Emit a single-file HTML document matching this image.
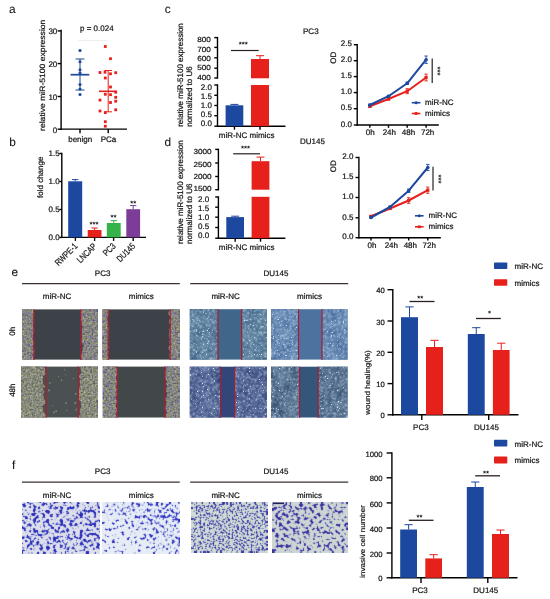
<!DOCTYPE html>
<html><head><meta charset="utf-8"><title>Figure</title>
<style>html,body{margin:0;padding:0;background:#fff}svg{display:block;will-change:transform}text{font-family:"Liberation Sans",sans-serif;text-rendering:geometricPrecision;stroke:#151515;stroke-width:0.22px}</style></head>
<body><svg width="550" height="599" viewBox="0 0 550 599">
<defs><filter id="pc" x="0" y="0" width="100%" height="100%" color-interpolation-filters="sRGB"><feTurbulence type="fractalNoise" baseFrequency="0.65" numOctaves="2" seed="4"/><feColorMatrix type="matrix" values="0.540 0.640 0 0 -0.070  0.540 0.640 0 0 -0.070  -0.600 0.640 0 0 0.490  0 0 0 0 1"/><feConvolveMatrix order="3" kernelMatrix="0 1 0 1 6 1 0 1 0" divisor="10" edgeMode="duplicate" preserveAlpha="true"/></filter><filter id="pc2" x="0" y="0" width="100%" height="100%" color-interpolation-filters="sRGB"><feTurbulence type="fractalNoise" baseFrequency="0.65" numOctaves="2" seed="9"/><feColorMatrix type="matrix" values="0.336 0.720 0 0 0.002  0.364 0.720 0 0 -0.002  -0.364 0.720 0 0 0.302  0 0 0 0 1"/><feConvolveMatrix order="3" kernelMatrix="0 1 0 1 6 1 0 1 0" divisor="10" edgeMode="duplicate" preserveAlpha="true"/></filter><clipPath id="cl11"><polygon points="22.0,309.4 33.3,309.4 33.5,311.9 34.2,314.4 33.3,316.9 33.4,319.4 33.6,321.9 32.8,324.4 33.4,326.9 33.7,329.4 34.0,331.9 32.6,334.4 33.0,336.9 32.6,339.4 34.0,341.9 33.8,344.4 32.5,346.9 34.4,349.4 34.3,351.9 33.7,354.4 33.6,356.9 32.7,359.4 32.4,359.6 22.0,359.6"/><polygon points="98.0,309.4 81.9,309.4 80.9,311.9 81.2,314.4 81.3,316.9 80.9,319.4 81.7,321.9 81.7,324.4 82.5,326.9 81.8,329.4 82.1,331.9 81.8,334.4 82.1,336.9 81.7,339.4 81.4,341.9 82.8,344.4 82.8,346.9 82.5,349.4 82.2,351.9 81.4,354.4 81.3,356.9 81.4,359.4 80.9,359.6 98.0,359.6"/></clipPath><clipPath id="cl12"><polygon points="102.5,309.4 108.4,309.4 108.9,311.9 108.9,314.4 107.6,316.9 107.3,319.4 108.2,321.9 108.0,324.4 109.2,326.9 109.0,329.4 108.7,331.9 108.6,334.4 108.9,336.9 107.6,339.4 108.4,341.9 107.7,344.4 109.5,346.9 107.4,349.4 109.3,351.9 107.5,354.4 108.9,356.9 108.1,359.4 108.3,359.6 102.5,359.6"/><polygon points="179.8,309.4 170.4,309.4 168.4,311.9 168.5,314.4 170.6,316.9 169.6,319.4 168.6,321.9 170.8,324.4 170.7,326.9 168.7,329.4 169.4,331.9 168.7,334.4 169.2,336.9 169.9,339.4 168.8,341.9 170.1,344.4 168.5,346.9 168.8,349.4 170.4,351.9 169.4,354.4 169.4,356.9 169.8,359.4 169.5,359.6 179.8,359.6"/></clipPath><clipPath id="cl13"><polygon points="21.0,366.6 43.2,366.6 45.1,369.1 45.1,371.6 45.8,374.1 42.9,376.6 43.1,379.1 42.7,381.6 43.1,384.1 45.3,386.6 42.7,389.1 44.4,391.6 43.0,394.1 43.4,396.6 44.0,399.1 45.8,401.6 44.8,404.1 42.2,406.6 43.3,409.1 42.7,411.6 45.9,414.1 45.7,416.6 45.6,417.5 21.0,417.5"/><polygon points="98.0,366.6 80.9,366.6 80.6,369.1 81.5,371.6 80.8,374.1 78.4,376.6 81.0,379.1 79.4,381.6 80.6,384.1 79.8,386.6 79.2,389.1 78.9,391.6 79.2,394.1 78.7,396.6 77.8,399.1 80.9,401.6 80.8,404.1 81.6,406.6 80.3,409.1 79.7,411.6 80.6,414.1 77.9,416.6 80.3,417.5 98.0,417.5"/></clipPath><clipPath id="cl14"><polygon points="102.8,366.6 115.3,366.6 117.1,369.1 117.0,371.6 117.8,374.1 115.8,376.6 115.8,379.1 117.2,381.6 117.0,384.1 115.9,386.6 117.1,389.1 116.2,391.6 117.3,394.1 115.4,396.6 115.7,399.1 117.7,401.6 116.1,404.1 115.8,406.6 117.4,409.1 116.9,411.6 115.4,414.1 116.7,416.6 117.0,417.5 102.8,417.5"/><polygon points="179.6,366.6 165.0,366.6 166.5,369.1 164.9,371.6 165.5,374.1 164.7,376.6 165.1,379.1 167.4,381.6 165.7,384.1 167.5,386.6 165.8,389.1 166.3,391.6 167.1,394.1 166.6,396.6 164.8,399.1 166.3,401.6 166.4,404.1 165.0,406.6 164.8,409.1 167.1,411.6 166.0,414.1 165.1,416.6 165.9,417.5 179.6,417.5"/></clipPath><filter id="du1" x="0" y="0" width="100%" height="100%" color-interpolation-filters="sRGB"><feTurbulence type="fractalNoise" baseFrequency="0.07" numOctaves="2" seed="5"/><feColorMatrix type="matrix" values="0.216 0 0 0 0.202  0.216 0 0 0 0.343  0.176 0 0 0 0.488  0 0 0 0 1" result="bg"/><feTurbulence type="fractalNoise" baseFrequency="0.62" numOctaves="2" seed="35"/><feColorMatrix type="matrix" values="0 0 0 0 0.753  0 0 0 0 0.847  0 0 0 0 0.910  6 0 0 0 -3.22" result="sp"/><feMerge><feMergeNode in="bg"/><feMergeNode in="sp"/></feMerge><feConvolveMatrix order="3" kernelMatrix="1 2 1 2 4 2 1 2 1" divisor="16" edgeMode="duplicate" preserveAlpha="true" result="soft"/><feTurbulence type="fractalNoise" baseFrequency="0.83" numOctaves="1" seed="65"/><feColorMatrix type="matrix" values="0 0 0 0 0.85  0 0 0 0 0.92  0 0 0 0 0.97  9 0 0 0 -5.9" result="sp2"/><feMerge><feMergeNode in="soft"/><feMergeNode in="sp2"/></feMerge></filter><filter id="du2" x="0" y="0" width="100%" height="100%" color-interpolation-filters="sRGB"><feTurbulence type="fractalNoise" baseFrequency="0.07" numOctaves="2" seed="6"/><feColorMatrix type="matrix" values="0.235 0 0 0 0.227  0.235 0 0 0 0.369  0.176 0 0 0 0.575  0 0 0 0 1" result="bg"/><feTurbulence type="fractalNoise" baseFrequency="0.62" numOctaves="2" seed="36"/><feColorMatrix type="matrix" values="0 0 0 0 0.784  0 0 0 0 0.863  0 0 0 0 0.941  6 0 0 0 -3.22" result="sp"/><feMerge><feMergeNode in="bg"/><feMergeNode in="sp"/></feMerge><feConvolveMatrix order="3" kernelMatrix="1 2 1 2 4 2 1 2 1" divisor="16" edgeMode="duplicate" preserveAlpha="true" result="soft"/><feTurbulence type="fractalNoise" baseFrequency="0.83" numOctaves="1" seed="66"/><feColorMatrix type="matrix" values="0 0 0 0 0.85  0 0 0 0 0.92  0 0 0 0 0.97  9 0 0 0 -5.9" result="sp2"/><feMerge><feMergeNode in="soft"/><feMergeNode in="sp2"/></feMerge></filter><filter id="du3" x="0" y="0" width="100%" height="100%" color-interpolation-filters="sRGB"><feTurbulence type="fractalNoise" baseFrequency="0.07" numOctaves="2" seed="7"/><feColorMatrix type="matrix" values="0.255 0 0 0 0.135  0.275 0 0 0 0.200  0.255 0 0 0 0.402  0 0 0 0 1" result="bg"/><feTurbulence type="fractalNoise" baseFrequency="0.62" numOctaves="2" seed="37"/><feColorMatrix type="matrix" values="0 0 0 0 0.737  0 0 0 0 0.792  0 0 0 0 0.910  6 0 0 0 -3.18" result="sp"/><feMerge><feMergeNode in="bg"/><feMergeNode in="sp"/></feMerge><feConvolveMatrix order="3" kernelMatrix="1 2 1 2 4 2 1 2 1" divisor="16" edgeMode="duplicate" preserveAlpha="true" result="soft"/><feTurbulence type="fractalNoise" baseFrequency="0.83" numOctaves="1" seed="67"/><feColorMatrix type="matrix" values="0 0 0 0 0.85  0 0 0 0 0.92  0 0 0 0 0.97  9 0 0 0 -5.9" result="sp2"/><feMerge><feMergeNode in="soft"/><feMergeNode in="sp2"/></feMerge></filter><filter id="du4" x="0" y="0" width="100%" height="100%" color-interpolation-filters="sRGB"><feTurbulence type="fractalNoise" baseFrequency="0.07" numOctaves="2" seed="8"/><feColorMatrix type="matrix" values="0.255 0 0 0 0.159  0.275 0 0 0 0.255  0.255 0 0 0 0.386  0 0 0 0 1" result="bg"/><feTurbulence type="fractalNoise" baseFrequency="0.62" numOctaves="2" seed="38"/><feColorMatrix type="matrix" values="0 0 0 0 0.737  0 0 0 0 0.816  0 0 0 0 0.902  6 0 0 0 -3.22" result="sp"/><feMerge><feMergeNode in="bg"/><feMergeNode in="sp"/></feMerge><feConvolveMatrix order="3" kernelMatrix="1 2 1 2 4 2 1 2 1" divisor="16" edgeMode="duplicate" preserveAlpha="true" result="soft"/><feTurbulence type="fractalNoise" baseFrequency="0.83" numOctaves="1" seed="68"/><feColorMatrix type="matrix" values="0 0 0 0 0.85  0 0 0 0 0.92  0 0 0 0 0.97  9 0 0 0 -5.9" result="sp2"/><feMerge><feMergeNode in="soft"/><feMergeNode in="sp2"/></feMerge></filter><clipPath id="cl15"><polygon points="189.8,309.2 218.3,309.2 217.7,311.7 218.1,314.2 217.8,316.7 218.3,319.2 217.7,321.7 218.2,324.2 218.1,326.7 218.2,329.2 218.3,331.7 217.8,334.2 217.9,336.7 218.1,339.2 217.9,341.7 217.9,344.2 217.8,346.7 218.2,349.2 218.2,351.7 218.2,354.2 217.8,356.7 218.3,359.2 218.0,359.6 189.8,359.6"/><polygon points="266.8,309.2 241.4,309.2 241.6,311.7 241.6,314.2 241.3,316.7 241.6,319.2 241.5,321.7 241.6,324.2 241.9,326.7 241.7,329.2 241.5,331.7 241.8,334.2 241.9,336.7 241.6,339.2 241.9,341.7 241.3,344.2 241.4,346.7 241.4,349.2 241.9,351.7 241.7,354.2 241.7,356.7 241.5,359.2 241.6,359.6 266.8,359.6"/></clipPath><clipPath id="cl16"><polygon points="271.0,309.2 298.4,309.2 298.5,311.7 298.5,314.2 298.5,316.7 298.4,319.2 298.6,321.7 298.4,324.2 298.6,326.7 298.2,329.2 298.4,331.7 298.4,334.2 298.3,336.7 298.6,339.2 298.4,341.7 298.7,344.2 298.8,346.7 298.4,349.2 298.7,351.7 298.7,354.2 298.6,356.7 298.2,359.2 298.5,359.6 271.0,359.6"/><polygon points="347.5,309.2 322.1,309.2 321.9,311.7 321.8,314.2 321.9,316.7 321.9,319.2 322.2,321.7 321.9,324.2 322.0,326.7 322.1,329.2 322.3,331.7 321.9,334.2 321.7,336.7 322.3,339.2 322.2,341.7 322.2,344.2 322.0,346.7 321.8,349.2 321.8,351.7 321.9,354.2 322.0,356.7 321.7,359.2 322.1,359.6 347.5,359.6"/></clipPath><clipPath id="cl17"><polygon points="189.8,366.7 220.5,366.7 220.7,369.2 220.8,371.7 220.4,374.2 220.7,376.7 220.6,379.2 220.6,381.7 220.3,384.2 220.2,386.7 220.4,389.2 220.6,391.7 220.4,394.2 220.5,396.7 220.4,399.2 220.7,401.7 220.8,404.2 220.4,406.7 220.8,409.2 220.2,411.7 220.7,414.2 220.7,416.7 220.3,417.5 189.8,417.5"/><polygon points="266.8,366.7 234.7,366.7 234.6,369.2 234.9,371.7 234.4,374.2 234.6,376.7 234.8,379.2 234.7,381.7 234.5,384.2 234.3,386.7 234.9,389.2 234.6,391.7 234.9,394.2 234.4,396.7 234.8,399.2 234.8,401.7 234.9,404.2 234.3,406.7 234.5,409.2 234.3,411.7 234.8,414.2 234.5,416.7 234.9,417.5 266.8,417.5"/></clipPath><clipPath id="cl18"><polygon points="271.0,366.7 299.4,366.7 299.7,369.2 299.5,371.7 299.4,374.2 299.6,376.7 299.6,379.2 299.6,381.7 299.6,384.2 299.5,386.7 299.5,389.2 299.7,391.7 299.5,394.2 299.7,396.7 299.8,399.2 299.8,401.7 299.9,404.2 299.4,406.7 299.4,409.2 299.7,411.7 299.6,414.2 299.4,416.7 299.7,417.5 271.0,417.5"/><polygon points="347.5,366.7 318.3,366.7 318.3,369.2 317.9,371.7 318.0,374.2 317.8,376.7 318.4,379.2 317.9,381.7 318.2,384.2 318.1,386.7 318.2,389.2 318.1,391.7 318.3,394.2 318.2,396.7 318.0,399.2 317.9,401.7 318.1,404.2 318.4,406.7 317.9,409.2 318.2,411.7 318.2,414.2 317.9,416.7 317.9,417.5 347.5,417.5"/></clipPath><filter id="t1" x="0" y="0" width="100%" height="100%" color-interpolation-filters="sRGB"><feTurbulence type="fractalNoise" baseFrequency="0.3" numOctaves="2" seed="21"/><feColorMatrix type="matrix" values="1 0 0 0 0  1 0 0 0 0  1 0 0 0 0  0 0 0 0 1"/><feComponentTransfer><feFuncR type="table" tableValues="0.867 0.867 0.867 0.867 0.867 0.867 0.867 0.867 0.867 0.867 0.867 0.867 0.867 0.533 0.165 0.165 0.165 0.165 0.165 0.165 0.165 0.165 0.165 0.165"/><feFuncG type="table" tableValues="0.882 0.882 0.882 0.882 0.882 0.882 0.882 0.882 0.882 0.882 0.882 0.882 0.882 0.565 0.173 0.173 0.173 0.173 0.173 0.173 0.173 0.173 0.173 0.173"/><feFuncB type="table" tableValues="0.925 0.925 0.925 0.925 0.925 0.925 0.925 0.925 0.925 0.925 0.925 0.925 0.925 0.831 0.737 0.737 0.737 0.737 0.737 0.737 0.737 0.737 0.737 0.737"/></feComponentTransfer><feConvolveMatrix order="3" kernelMatrix="0 1 0 1 6 1 0 1 0" divisor="10" edgeMode="duplicate" preserveAlpha="true"/></filter><filter id="t2" x="0" y="0" width="100%" height="100%" color-interpolation-filters="sRGB"><feTurbulence type="fractalNoise" baseFrequency="0.32" numOctaves="2" seed="22"/><feColorMatrix type="matrix" values="1 0 0 0 0  1 0 0 0 0  1 0 0 0 0  0 0 0 0 1"/><feComponentTransfer><feFuncR type="table" tableValues="0.902 0.902 0.902 0.902 0.902 0.902 0.902 0.902 0.902 0.902 0.902 0.902 0.902 0.902 0.902 0.596 0.173 0.173 0.173 0.173 0.173 0.173 0.173 0.173"/><feFuncG type="table" tableValues="0.933 0.933 0.933 0.933 0.933 0.933 0.933 0.933 0.933 0.933 0.933 0.933 0.933 0.933 0.933 0.627 0.180 0.180 0.180 0.180 0.180 0.180 0.180 0.180"/><feFuncB type="table" tableValues="0.965 0.965 0.965 0.965 0.965 0.965 0.965 0.965 0.965 0.965 0.965 0.965 0.965 0.965 0.965 0.863 0.753 0.753 0.753 0.753 0.753 0.753 0.753 0.753"/></feComponentTransfer><feConvolveMatrix order="3" kernelMatrix="0 1 0 1 6 1 0 1 0" divisor="10" edgeMode="duplicate" preserveAlpha="true"/></filter><filter id="t2b" x="0" y="0" width="100%" height="100%" color-interpolation-filters="sRGB"><feTurbulence type="fractalNoise" baseFrequency="0.32" numOctaves="2" seed="22"/><feColorMatrix type="matrix" values="1 0 0 0 0  1 0 0 0 0  1 0 0 0 0  0 0 0 0 1"/><feComponentTransfer><feFuncR type="table" tableValues="0.902 0.902 0.902 0.902 0.902 0.902 0.902 0.902 0.902 0.902 0.902 0.902 0.902 0.533 0.165 0.165 0.165 0.165 0.165 0.165 0.165 0.165 0.165 0.165"/><feFuncG type="table" tableValues="0.933 0.933 0.933 0.933 0.933 0.933 0.933 0.933 0.933 0.933 0.933 0.933 0.933 0.565 0.173 0.173 0.173 0.173 0.173 0.173 0.173 0.173 0.173 0.173"/><feFuncB type="table" tableValues="0.965 0.965 0.965 0.965 0.965 0.965 0.965 0.965 0.965 0.965 0.965 0.965 0.965 0.847 0.753 0.753 0.753 0.753 0.753 0.753 0.753 0.753 0.753 0.753"/></feComponentTransfer><feConvolveMatrix order="3" kernelMatrix="0 1 0 1 6 1 0 1 0" divisor="10" edgeMode="duplicate" preserveAlpha="true"/></filter><linearGradient id="gmt2b" x1="1" y1="0" x2="0" y2="1"><stop offset="0" stop-color="#fff"/><stop offset="0.15" stop-color="#fff"/><stop offset="0.6" stop-color="#000"/><stop offset="1" stop-color="#000"/></linearGradient><mask id="mt2b" maskUnits="userSpaceOnUse" x="102.5" y="502" width="77.5" height="51.8"><rect x="102.5" y="502" width="77.5" height="51.8" fill="url(#gmt2b)"/></mask><filter id="t3" x="0" y="0" width="100%" height="100%" color-interpolation-filters="sRGB"><feTurbulence type="fractalNoise" baseFrequency="0.53" numOctaves="2" seed="31"/><feColorMatrix type="matrix" values="1 0 0 0 0  1 0 0 0 0  1 0 0 0 0  0 0 0 0 1"/><feComponentTransfer><feFuncR type="table" tableValues="0.824 0.824 0.824 0.824 0.824 0.824 0.824 0.824 0.824 0.824 0.824 0.824 0.824 0.541 0.212 0.212 0.212 0.212 0.212 0.212 0.212 0.212 0.212 0.212"/><feFuncG type="table" tableValues="0.863 0.863 0.863 0.863 0.863 0.863 0.863 0.863 0.863 0.863 0.863 0.863 0.863 0.565 0.212 0.212 0.212 0.212 0.212 0.212 0.212 0.212 0.212 0.212"/><feFuncB type="table" tableValues="0.835 0.835 0.835 0.835 0.835 0.835 0.835 0.835 0.835 0.835 0.835 0.835 0.835 0.769 0.659 0.659 0.659 0.659 0.659 0.659 0.659 0.659 0.659 0.659"/></feComponentTransfer><feConvolveMatrix order="3" kernelMatrix="0 1 0 1 6 1 0 1 0" divisor="10" edgeMode="duplicate" preserveAlpha="true"/></filter><filter id="t4" x="0" y="0" width="100%" height="100%" color-interpolation-filters="sRGB"><feTurbulence type="fractalNoise" baseFrequency="0.29" numOctaves="2" seed="27"/><feColorMatrix type="matrix" values="1 0 0 0 0  1 0 0 0 0  1 0 0 0 0  0 0 0 0 1"/><feComponentTransfer><feFuncR type="table" tableValues="0.800 0.800 0.800 0.800 0.800 0.800 0.800 0.800 0.800 0.800 0.800 0.800 0.800 0.800 0.502 0.235 0.235 0.235 0.235 0.235 0.235 0.235 0.235 0.235"/><feFuncG type="table" tableValues="0.847 0.847 0.847 0.847 0.847 0.847 0.847 0.847 0.847 0.847 0.847 0.847 0.847 0.847 0.502 0.188 0.188 0.188 0.188 0.188 0.188 0.188 0.188 0.188"/><feFuncB type="table" tableValues="0.835 0.835 0.835 0.835 0.835 0.835 0.835 0.835 0.835 0.835 0.835 0.835 0.835 0.835 0.753 0.620 0.620 0.620 0.620 0.620 0.620 0.620 0.620 0.620"/></feComponentTransfer><feConvolveMatrix order="3" kernelMatrix="0 1 0 1 6 1 0 1 0" divisor="10" edgeMode="duplicate" preserveAlpha="true"/></filter><filter id="t4b" x="0" y="0" width="100%" height="100%" color-interpolation-filters="sRGB"><feTurbulence type="fractalNoise" baseFrequency="0.29" numOctaves="2" seed="27"/><feColorMatrix type="matrix" values="1 0 0 0 0  1 0 0 0 0  1 0 0 0 0  0 0 0 0 1"/><feComponentTransfer><feFuncR type="table" tableValues="0.800 0.800 0.800 0.800 0.800 0.800 0.800 0.800 0.800 0.800 0.800 0.800 0.800 0.471 0.235 0.235 0.235 0.235 0.235 0.235 0.235 0.235 0.235 0.235"/><feFuncG type="table" tableValues="0.847 0.847 0.847 0.847 0.847 0.847 0.847 0.847 0.847 0.847 0.847 0.847 0.847 0.471 0.188 0.188 0.188 0.188 0.188 0.188 0.188 0.188 0.188 0.188"/><feFuncB type="table" tableValues="0.835 0.835 0.835 0.835 0.835 0.835 0.835 0.835 0.835 0.835 0.835 0.835 0.835 0.737 0.620 0.620 0.620 0.620 0.620 0.620 0.620 0.620 0.620 0.620"/></feComponentTransfer><feConvolveMatrix order="3" kernelMatrix="0 1 0 1 6 1 0 1 0" divisor="10" edgeMode="duplicate" preserveAlpha="true"/></filter><linearGradient id="gmt4b" x1="0" y1="0" x2="1" y2="1"><stop offset="0" stop-color="#fff"/><stop offset="0.15" stop-color="#fff"/><stop offset="0.6" stop-color="#000"/><stop offset="1" stop-color="#000"/></linearGradient><mask id="mt4b" maskUnits="userSpaceOnUse" x="272.2" y="502.2" width="75.4" height="50.6"><rect x="272.2" y="502.2" width="75.4" height="50.6" fill="url(#gmt4b)"/></mask></defs>
<rect width="550" height="599" fill="#fff"/>
<text transform="translate(12.4 12.7)" font-size="11.8" text-anchor="middle" fill="#151515" style="stroke-width:0.1px">a</text>
<text transform="translate(12.6 145.8)" font-size="11.8" text-anchor="middle" fill="#151515" style="stroke-width:0.1px">b</text>
<text transform="translate(167.7 12.8)" font-size="11.8" text-anchor="middle" fill="#151515" style="stroke-width:0.1px">c</text>
<text transform="translate(167.8 145.8)" font-size="11.8" text-anchor="middle" fill="#151515" style="stroke-width:0.1px">d</text>
<text transform="translate(14.9 276.2)" font-size="11.8" text-anchor="middle" fill="#151515" style="stroke-width:0.1px">e</text>
<text transform="translate(13.6 469)" font-size="11.8" text-anchor="middle" fill="#151515" style="stroke-width:0.1px">f</text>
<line x1="61.1" y1="29.8" x2="61.1" y2="129.89999999999998" stroke="#000" stroke-width="1.4"/>
<line x1="57.6" y1="30.9" x2="61.1" y2="30.9" stroke="#000" stroke-width="1.4"/>
<text transform="translate(57.300000000000004 34.3)" font-size="8" text-anchor="end" fill="#151515">30</text>
<line x1="57.6" y1="63.6" x2="61.1" y2="63.6" stroke="#000" stroke-width="1.4"/>
<text transform="translate(57.300000000000004 67.0)" font-size="8" text-anchor="end" fill="#151515">20</text>
<line x1="57.6" y1="96.5" x2="61.1" y2="96.5" stroke="#000" stroke-width="1.4"/>
<text transform="translate(57.300000000000004 99.9)" font-size="8" text-anchor="end" fill="#151515">10</text>
<line x1="57.6" y1="129.2" x2="61.1" y2="129.2" stroke="#000" stroke-width="1.4"/>
<text transform="translate(57.300000000000004 132.6)" font-size="8" text-anchor="end" fill="#151515">0</text>
<line x1="60.4" y1="129.1" x2="127" y2="129.1" stroke="#000" stroke-width="1.4"/>
<line x1="80" y1="129.1" x2="80" y2="133.29999999999998" stroke="#000" stroke-width="1.4"/>
<line x1="108.2" y1="129.1" x2="108.2" y2="133.29999999999998" stroke="#000" stroke-width="1.4"/>
<text transform="translate(80.2 141.5)" font-size="8" text-anchor="middle" fill="#151515">benign</text>
<text transform="translate(108.5 141.5)" font-size="8" text-anchor="middle" fill="#151515">PCa</text>
<text transform="translate(45.2 75.3) rotate(-90) scale(1 0.9)" font-size="8.6" text-anchor="middle" fill="#151515">relative miR-5100 expression</text>
<text transform="translate(96.8 30.8)" font-size="8" text-anchor="middle" fill="#151515">p = 0.024</text>
<line x1="78.5" y1="40.5" x2="107" y2="40.5" stroke="#e4e4e4" stroke-width="0.6"/>
<line x1="70.5" y1="74.7" x2="89.3" y2="74.7" stroke="#1c499f" stroke-width="1.7"/>
<line x1="80" y1="59" x2="80" y2="90" stroke="#1c499f" stroke-width="1.0"/>
<line x1="75.5" y1="59" x2="84.5" y2="59" stroke="#1c499f" stroke-width="1.0"/>
<line x1="75.5" y1="90" x2="84.5" y2="90" stroke="#1c499f" stroke-width="1.0"/>
<circle cx="80" cy="50.5" r="1.55" fill="#1c499f"/>
<circle cx="80" cy="61.8" r="1.55" fill="#1c499f"/>
<circle cx="80" cy="69.8" r="1.55" fill="#1c499f"/>
<circle cx="80" cy="73" r="1.55" fill="#1c499f"/>
<circle cx="80" cy="84.5" r="1.55" fill="#1c499f"/>
<circle cx="80" cy="89" r="1.55" fill="#1c499f"/>
<circle cx="80" cy="94.5" r="1.55" fill="#1c499f"/>
<line x1="99" y1="91.3" x2="116.8" y2="91.3" stroke="#e6211c" stroke-width="1.6"/>
<line x1="108.2" y1="70.5" x2="108.2" y2="111.8" stroke="#e6211c" stroke-width="1.0"/>
<line x1="104.5" y1="70.5" x2="112" y2="70.5" stroke="#e6211c" stroke-width="1.0"/>
<line x1="104.5" y1="111.8" x2="112" y2="111.8" stroke="#e6211c" stroke-width="1.0"/>
<rect x="103.90" y="45.10" width="2.80" height="2.80" fill="#e6211c"/>
<rect x="109.10" y="57.30" width="2.80" height="2.80" fill="#e6211c"/>
<rect x="98.60" y="71.10" width="2.80" height="2.80" fill="#e6211c"/>
<rect x="103.60" y="70.80" width="2.80" height="2.80" fill="#e6211c"/>
<rect x="109.10" y="72.40" width="2.80" height="2.80" fill="#e6211c"/>
<rect x="114.30" y="71.30" width="2.80" height="2.80" fill="#e6211c"/>
<rect x="103.90" y="76.60" width="2.80" height="2.80" fill="#e6211c"/>
<rect x="109.10" y="85.60" width="2.80" height="2.80" fill="#e6211c"/>
<rect x="103.90" y="92.90" width="2.80" height="2.80" fill="#e6211c"/>
<rect x="109.10" y="93.30" width="2.80" height="2.80" fill="#e6211c"/>
<rect x="114.30" y="90.80" width="2.80" height="2.80" fill="#e6211c"/>
<rect x="114.30" y="95.90" width="2.80" height="2.80" fill="#e6211c"/>
<rect x="98.60" y="98.70" width="2.80" height="2.80" fill="#e6211c"/>
<rect x="114.30" y="99.80" width="2.80" height="2.80" fill="#e6211c"/>
<rect x="109.10" y="101.10" width="2.80" height="2.80" fill="#e6211c"/>
<rect x="98.60" y="109.60" width="2.80" height="2.80" fill="#e6211c"/>
<rect x="103.90" y="111.20" width="2.80" height="2.80" fill="#e6211c"/>
<rect x="114.30" y="108.40" width="2.80" height="2.80" fill="#e6211c"/>
<rect x="103.90" y="120.30" width="2.80" height="2.80" fill="#e6211c"/>
<rect x="103.90" y="124.80" width="2.80" height="2.80" fill="#e6211c"/>
<line x1="61.8" y1="152.8" x2="61.8" y2="238.1" stroke="#000" stroke-width="1.4"/>
<line x1="59.3" y1="153.5" x2="61.8" y2="153.5" stroke="#000" stroke-width="1.4"/>
<text transform="translate(59.599999999999994 156.38)" font-size="8" text-anchor="end" fill="#151515">1.5</text>
<line x1="59.3" y1="181.5" x2="61.8" y2="181.5" stroke="#000" stroke-width="1.4"/>
<text transform="translate(59.599999999999994 184.38)" font-size="8" text-anchor="end" fill="#151515">1.0</text>
<line x1="59.3" y1="209.5" x2="61.8" y2="209.5" stroke="#000" stroke-width="1.4"/>
<text transform="translate(59.599999999999994 212.38)" font-size="8" text-anchor="end" fill="#151515">0.5</text>
<line x1="59.3" y1="237.4" x2="61.8" y2="237.4" stroke="#000" stroke-width="1.4"/>
<text transform="translate(59.599999999999994 240.28)" font-size="8" text-anchor="end" fill="#151515">0.0</text>
<line x1="61.099999999999994" y1="237.4" x2="146" y2="237.4" stroke="#000" stroke-width="1.4"/>
<line x1="75.4" y1="237.4" x2="75.4" y2="240.9" stroke="#000" stroke-width="1.4"/>
<line x1="94.6" y1="237.4" x2="94.6" y2="240.9" stroke="#000" stroke-width="1.4"/>
<line x1="113.6" y1="237.4" x2="113.6" y2="240.9" stroke="#000" stroke-width="1.4"/>
<line x1="133.2" y1="237.4" x2="133.2" y2="240.9" stroke="#000" stroke-width="1.4"/>
<line x1="75.2" y1="179.6" x2="75.2" y2="181.3" stroke="#1c499f" stroke-width="1.0"/>
<line x1="72.0" y1="179.6" x2="78.4" y2="179.6" stroke="#1c499f" stroke-width="1.0"/>
<rect x="68.20" y="181.30" width="14.00" height="56.10" fill="#1c499f"/>
<line x1="94.6" y1="228" x2="94.6" y2="230" stroke="#e6211c" stroke-width="1.0"/>
<line x1="91.39999999999999" y1="228" x2="97.8" y2="228" stroke="#e6211c" stroke-width="1.0"/>
<rect x="87.70" y="230.00" width="13.80" height="7.40" fill="#e6211c"/>
<line x1="113.75" y1="220.6" x2="113.75" y2="223" stroke="#36b24a" stroke-width="1.0"/>
<line x1="110.55" y1="220.6" x2="116.95" y2="220.6" stroke="#36b24a" stroke-width="1.0"/>
<rect x="106.80" y="223.00" width="13.90" height="14.40" fill="#36b24a"/>
<line x1="133.2" y1="205.6" x2="133.2" y2="209.2" stroke="#7d3c98" stroke-width="1.0"/>
<line x1="130.0" y1="205.6" x2="136.39999999999998" y2="205.6" stroke="#7d3c98" stroke-width="1.0"/>
<rect x="126.30" y="209.20" width="13.80" height="28.20" fill="#7d3c98"/>
<text transform="translate(42.8 177.3) rotate(-90)" font-size="8" text-anchor="middle" fill="#151515">fold change</text>
<text transform="translate(94 226.5505)" font-size="7.7" text-anchor="middle" fill="#151515" font-weight="bold" style="stroke-width:0">***</text>
<text transform="translate(113.5 220.15050000000002)" font-size="7.7" text-anchor="middle" fill="#151515" font-weight="bold" style="stroke-width:0">**</text>
<text transform="translate(133.3 206.0505)" font-size="7.7" text-anchor="middle" fill="#151515" font-weight="bold" style="stroke-width:0">**</text>
<text transform="translate(78.0 246.8) rotate(-45) scale(0.79 1)" font-size="9" text-anchor="end" fill="#151515">RWPE-1</text>
<text transform="translate(97.19999999999999 246.8) rotate(-45) scale(0.79 1)" font-size="9" text-anchor="end" fill="#151515">LNCAP</text>
<text transform="translate(116.19999999999999 246.8) rotate(-45) scale(0.79 1)" font-size="9" text-anchor="end" fill="#151515">PC3</text>
<text transform="translate(135.79999999999998 246.8) rotate(-45) scale(0.79 1)" font-size="9" text-anchor="end" fill="#151515">DU145</text>
<line x1="217.5" y1="36.9" x2="217.5" y2="78.7" stroke="#000" stroke-width="1.4"/>
<line x1="214.3" y1="37.6" x2="217.5" y2="37.6" stroke="#000" stroke-width="1.4"/>
<line x1="214.3" y1="47.4" x2="217.5" y2="47.4" stroke="#000" stroke-width="1.4"/>
<line x1="214.3" y1="57.8" x2="217.5" y2="57.8" stroke="#000" stroke-width="1.4"/>
<line x1="214.3" y1="68.2" x2="217.5" y2="68.2" stroke="#000" stroke-width="1.4"/>
<line x1="214.3" y1="78" x2="217.5" y2="78" stroke="#000" stroke-width="1.4"/>
<line x1="217.5" y1="84.3" x2="217.5" y2="126.9" stroke="#000" stroke-width="1.4"/>
<line x1="214.3" y1="85" x2="217.5" y2="85" stroke="#000" stroke-width="1.4"/>
<line x1="214.3" y1="95.3" x2="217.5" y2="95.3" stroke="#000" stroke-width="1.4"/>
<line x1="214.3" y1="105.5" x2="217.5" y2="105.5" stroke="#000" stroke-width="1.4"/>
<line x1="214.3" y1="115.7" x2="217.5" y2="115.7" stroke="#000" stroke-width="1.4"/>
<line x1="214.3" y1="126.2" x2="217.5" y2="126.2" stroke="#000" stroke-width="1.4"/>
<text transform="translate(210.9 42.2568) scale(1 0.9)" font-size="8.2" text-anchor="end" fill="#151515">800</text>
<text transform="translate(210.9 51.7568) scale(1 0.9)" font-size="8.2" text-anchor="end" fill="#151515">700</text>
<text transform="translate(210.9 61.056799999999996) scale(1 0.9)" font-size="8.2" text-anchor="end" fill="#151515">600</text>
<text transform="translate(210.9 70.2568) scale(1 0.9)" font-size="8.2" text-anchor="end" fill="#151515">500</text>
<text transform="translate(210.9 79.55680000000001) scale(1 0.9)" font-size="8.2" text-anchor="end" fill="#151515">400</text>
<text transform="translate(211.9 90.17999999999999)" font-size="8" text-anchor="end" fill="#151515">2.0</text>
<text transform="translate(211.9 98.67999999999999)" font-size="8" text-anchor="end" fill="#151515">1.5</text>
<text transform="translate(211.9 108.38)" font-size="8" text-anchor="end" fill="#151515">1.0</text>
<text transform="translate(211.9 117.38)" font-size="8" text-anchor="end" fill="#151515">0.5</text>
<text transform="translate(211.9 126.38)" font-size="8" text-anchor="end" fill="#151515">0.0</text>
<line x1="216.8" y1="126.2" x2="285.5" y2="126.2" stroke="#000" stroke-width="1.4"/>
<line x1="234.45" y1="126.2" x2="234.45" y2="129.7" stroke="#000" stroke-width="1.4"/>
<line x1="260.0" y1="126.2" x2="260.0" y2="129.7" stroke="#000" stroke-width="1.4"/>
<rect x="225.60" y="105.30" width="17.70" height="20.90" fill="#1c499f"/>
<line x1="234.45" y1="104.39999999999999" x2="234.45" y2="105.3" stroke="#1c499f" stroke-width="1.0"/>
<line x1="230.45" y1="104.39999999999999" x2="238.45" y2="104.39999999999999" stroke="#1c499f" stroke-width="1.0"/>
<line x1="260.0" y1="55.7" x2="260.0" y2="59" stroke="#e6211c" stroke-width="1.0"/>
<line x1="256.0" y1="55.7" x2="264.0" y2="55.7" stroke="#e6211c" stroke-width="1.0"/>
<rect x="251.00" y="59.00" width="18.00" height="19.30" fill="#e6211c"/>
<rect x="251.00" y="85.00" width="18.00" height="41.20" fill="#e6211c"/>
<line x1="231" y1="50.5" x2="258.7" y2="50.5" stroke="#2a2020" stroke-width="1.2"/>
<text transform="translate(243.2 47.3505)" font-size="7.7" text-anchor="middle" fill="#151515" font-weight="bold" style="stroke-width:0">***</text>
<text transform="translate(246.6 137.8)" font-size="8" text-anchor="middle" fill="#151515">miR-NC mimics</text>
<text transform="translate(182.6 126.8) rotate(-90)" font-size="8" text-anchor="start" fill="#151515">relative miR-5100 expression</text>
<text transform="translate(192 126.8) rotate(-90)" font-size="8" text-anchor="start" fill="#151515">normalized to U6</text>
<text transform="translate(310.8 34)" font-size="8" text-anchor="middle" fill="#151515">PC3</text>
<text transform="translate(312.4 143.8)" font-size="8" text-anchor="middle" fill="#151515">DU145</text>
<line x1="218.4" y1="148.70000000000002" x2="218.4" y2="190.39999999999998" stroke="#000" stroke-width="1.4"/>
<line x1="215.20000000000002" y1="149.4" x2="218.4" y2="149.4" stroke="#000" stroke-width="1.4"/>
<line x1="215.20000000000002" y1="163" x2="218.4" y2="163" stroke="#000" stroke-width="1.4"/>
<line x1="215.20000000000002" y1="176.5" x2="218.4" y2="176.5" stroke="#000" stroke-width="1.4"/>
<line x1="215.20000000000002" y1="189.7" x2="218.4" y2="189.7" stroke="#000" stroke-width="1.4"/>
<line x1="218.4" y1="196.3" x2="218.4" y2="238.89999999999998" stroke="#000" stroke-width="1.4"/>
<line x1="215.20000000000002" y1="197" x2="218.4" y2="197" stroke="#000" stroke-width="1.4"/>
<line x1="215.20000000000002" y1="207.2" x2="218.4" y2="207.2" stroke="#000" stroke-width="1.4"/>
<line x1="215.20000000000002" y1="217.2" x2="218.4" y2="217.2" stroke="#000" stroke-width="1.4"/>
<line x1="215.20000000000002" y1="227.5" x2="218.4" y2="227.5" stroke="#000" stroke-width="1.4"/>
<line x1="215.20000000000002" y1="238.2" x2="218.4" y2="238.2" stroke="#000" stroke-width="1.4"/>
<text transform="translate(211.6 154.0568) scale(1 0.9)" font-size="8.2" text-anchor="end" fill="#151515">3000</text>
<text transform="translate(211.6 166.6568) scale(1 0.9)" font-size="8.2" text-anchor="end" fill="#151515">2500</text>
<text transform="translate(211.6 178.8568) scale(1 0.9)" font-size="8.2" text-anchor="end" fill="#151515">2000</text>
<text transform="translate(211.6 191.1568) scale(1 0.9)" font-size="8.2" text-anchor="end" fill="#151515">1500</text>
<text transform="translate(209.2 201.57999999999998)" font-size="8" text-anchor="end" fill="#151515">2.0</text>
<text transform="translate(209.2 210.68)" font-size="8" text-anchor="end" fill="#151515">1.5</text>
<text transform="translate(209.2 220.07999999999998)" font-size="8" text-anchor="end" fill="#151515">1.0</text>
<text transform="translate(209.2 228.88)" font-size="8" text-anchor="end" fill="#151515">0.5</text>
<text transform="translate(209.2 237.88)" font-size="8" text-anchor="end" fill="#151515">0.0</text>
<line x1="217.70000000000002" y1="238.2" x2="285.4" y2="238.2" stroke="#000" stroke-width="1.4"/>
<line x1="235.15" y1="238.2" x2="235.15" y2="241.7" stroke="#000" stroke-width="1.4"/>
<line x1="260.5" y1="238.2" x2="260.5" y2="241.7" stroke="#000" stroke-width="1.4"/>
<rect x="226.30" y="217.10" width="17.70" height="21.10" fill="#1c499f"/>
<line x1="235.15" y1="216.2" x2="235.15" y2="217.1" stroke="#1c499f" stroke-width="1.0"/>
<line x1="231.15" y1="216.2" x2="239.15" y2="216.2" stroke="#1c499f" stroke-width="1.0"/>
<line x1="260.5" y1="157.1" x2="260.5" y2="161.2" stroke="#e6211c" stroke-width="1.0"/>
<line x1="256.5" y1="157.1" x2="264.5" y2="157.1" stroke="#e6211c" stroke-width="1.0"/>
<rect x="251.60" y="161.20" width="17.80" height="28.50" fill="#e6211c"/>
<rect x="251.60" y="196.80" width="17.80" height="41.40" fill="#e6211c"/>
<line x1="233.2" y1="153.8" x2="260" y2="153.8" stroke="#2a2020" stroke-width="1.2"/>
<text transform="translate(245.5 151.15050000000002)" font-size="7.7" text-anchor="middle" fill="#151515" font-weight="bold" style="stroke-width:0">***</text>
<text transform="translate(246.6 249.5)" font-size="8" text-anchor="middle" fill="#151515">miR-NC mimics</text>
<text transform="translate(183 244) rotate(-90)" font-size="8" text-anchor="start" fill="#151515">relative miR-5100 expression</text>
<text transform="translate(192.2 244) rotate(-90)" font-size="8" text-anchor="start" fill="#151515">normalized to U6</text>
<line x1="357.2" y1="44.0" x2="357.2" y2="125.7" stroke="#000" stroke-width="1.4"/>
<line x1="353.8" y1="44.7" x2="357.2" y2="44.7" stroke="#000" stroke-width="1.4"/>
<line x1="353.8" y1="60.7" x2="357.2" y2="60.7" stroke="#000" stroke-width="1.4"/>
<line x1="353.8" y1="76.6" x2="357.2" y2="76.6" stroke="#000" stroke-width="1.4"/>
<line x1="353.8" y1="92.6" x2="357.2" y2="92.6" stroke="#000" stroke-width="1.4"/>
<line x1="353.8" y1="108.7" x2="357.2" y2="108.7" stroke="#000" stroke-width="1.4"/>
<line x1="353.8" y1="125" x2="357.2" y2="125" stroke="#000" stroke-width="1.4"/>
<text transform="translate(351.9 46.480000000000004)" font-size="8" text-anchor="end" fill="#151515">2.5</text>
<text transform="translate(351.9 62.480000000000004)" font-size="8" text-anchor="end" fill="#151515">2.0</text>
<text transform="translate(351.9 78.38)" font-size="8" text-anchor="end" fill="#151515">1.5</text>
<text transform="translate(351.9 94.38)" font-size="8" text-anchor="end" fill="#151515">1.0</text>
<text transform="translate(351.9 110.48)" font-size="8" text-anchor="end" fill="#151515">0.5</text>
<text transform="translate(351.9 126.78)" font-size="8" text-anchor="end" fill="#151515">0.0</text>
<line x1="356.5" y1="125" x2="438.8" y2="125" stroke="#000" stroke-width="1.4"/>
<line x1="369.8" y1="125" x2="369.8" y2="127.8" stroke="#000" stroke-width="1.4"/>
<line x1="388.5" y1="125" x2="388.5" y2="127.8" stroke="#000" stroke-width="1.4"/>
<line x1="407.2" y1="125" x2="407.2" y2="127.8" stroke="#000" stroke-width="1.4"/>
<line x1="426.1" y1="125" x2="426.1" y2="127.8" stroke="#000" stroke-width="1.4"/>
<text transform="translate(370.2 135.2)" font-size="8" text-anchor="middle" fill="#151515">0h</text>
<text transform="translate(389.3 135.2)" font-size="8" text-anchor="middle" fill="#151515">24h</text>
<text transform="translate(408.5 135.2)" font-size="8" text-anchor="middle" fill="#151515">48h</text>
<text transform="translate(427.6 135.2)" font-size="8" text-anchor="middle" fill="#151515">72h</text>
<polyline fill="none" stroke="#e6211c" stroke-width="2" stroke-linejoin="round" points="369.8,106.3 388.5,99 407.2,91.2 426.1,77.5"/>
<line x1="369.8" y1="105.3" x2="369.8" y2="107.3" stroke="#e6211c" stroke-width="0.9"/>
<line x1="368.1" y1="105.3" x2="371.5" y2="105.3" stroke="#e6211c" stroke-width="0.9"/>
<line x1="368.1" y1="107.3" x2="371.5" y2="107.3" stroke="#e6211c" stroke-width="0.9"/>
<rect x="368.20" y="104.70" width="3.20" height="3.20" fill="#e6211c"/>
<line x1="388.5" y1="98" x2="388.5" y2="100" stroke="#e6211c" stroke-width="0.9"/>
<line x1="386.8" y1="98" x2="390.2" y2="98" stroke="#e6211c" stroke-width="0.9"/>
<line x1="386.8" y1="100" x2="390.2" y2="100" stroke="#e6211c" stroke-width="0.9"/>
<rect x="386.90" y="97.40" width="3.20" height="3.20" fill="#e6211c"/>
<line x1="407.2" y1="88.7" x2="407.2" y2="93.7" stroke="#e6211c" stroke-width="0.9"/>
<line x1="405.5" y1="88.7" x2="408.9" y2="88.7" stroke="#e6211c" stroke-width="0.9"/>
<line x1="405.5" y1="93.7" x2="408.9" y2="93.7" stroke="#e6211c" stroke-width="0.9"/>
<rect x="405.60" y="89.60" width="3.20" height="3.20" fill="#e6211c"/>
<line x1="426.1" y1="74.1" x2="426.1" y2="80.9" stroke="#e6211c" stroke-width="0.9"/>
<line x1="424.40000000000003" y1="74.1" x2="427.8" y2="74.1" stroke="#e6211c" stroke-width="0.9"/>
<line x1="424.40000000000003" y1="80.9" x2="427.8" y2="80.9" stroke="#e6211c" stroke-width="0.9"/>
<rect x="424.50" y="75.90" width="3.20" height="3.20" fill="#e6211c"/>
<polyline fill="none" stroke="#1c499f" stroke-width="2" stroke-linejoin="round" points="369.8,105 388.5,96.2 407.2,83.3 426.1,59.7"/>
<line x1="369.8" y1="104.2" x2="369.8" y2="105.8" stroke="#1c499f" stroke-width="0.9"/>
<line x1="368.1" y1="104.2" x2="371.5" y2="104.2" stroke="#1c499f" stroke-width="0.9"/>
<line x1="368.1" y1="105.8" x2="371.5" y2="105.8" stroke="#1c499f" stroke-width="0.9"/>
<circle cx="369.8" cy="105" r="1.8" fill="#1c499f"/>
<line x1="388.5" y1="95.4" x2="388.5" y2="97.0" stroke="#1c499f" stroke-width="0.9"/>
<line x1="386.8" y1="95.4" x2="390.2" y2="95.4" stroke="#1c499f" stroke-width="0.9"/>
<line x1="386.8" y1="97.0" x2="390.2" y2="97.0" stroke="#1c499f" stroke-width="0.9"/>
<circle cx="388.5" cy="96.2" r="1.8" fill="#1c499f"/>
<line x1="407.2" y1="82.1" x2="407.2" y2="84.5" stroke="#1c499f" stroke-width="0.9"/>
<line x1="405.5" y1="82.1" x2="408.9" y2="82.1" stroke="#1c499f" stroke-width="0.9"/>
<line x1="405.5" y1="84.5" x2="408.9" y2="84.5" stroke="#1c499f" stroke-width="0.9"/>
<circle cx="407.2" cy="83.3" r="1.8" fill="#1c499f"/>
<line x1="426.1" y1="56.0" x2="426.1" y2="63.400000000000006" stroke="#1c499f" stroke-width="0.9"/>
<line x1="424.40000000000003" y1="56.0" x2="427.8" y2="56.0" stroke="#1c499f" stroke-width="0.9"/>
<line x1="424.40000000000003" y1="63.400000000000006" x2="427.8" y2="63.400000000000006" stroke="#1c499f" stroke-width="0.9"/>
<circle cx="426.1" cy="59.7" r="1.8" fill="#1c499f"/>
<line x1="432.2" y1="58.5" x2="432.2" y2="83" stroke="#2a2020" stroke-width="1.2"/>
<text transform="translate(434.54949999999997 71.05) rotate(90)" font-size="7.7" text-anchor="middle" fill="#151515" font-weight="bold" style="stroke-width:0">***</text>
<text transform="translate(335.8 57.7) rotate(-90)" font-size="8" text-anchor="middle" fill="#151515">OD</text>
<line x1="411.8" y1="102.7" x2="420.40000000000003" y2="102.7" stroke="#1c499f" stroke-width="1.6"/>
<circle cx="416.1" cy="102.7" r="1.5" fill="#1c499f"/>
<text transform="translate(425 104.9)" font-size="8" text-anchor="start" fill="#151515">miR-NC</text>
<line x1="411.8" y1="113.5" x2="420.40000000000003" y2="113.5" stroke="#e6211c" stroke-width="1.6"/>
<rect x="414.70" y="112.10" width="2.80" height="2.80" fill="#e6211c"/>
<text transform="translate(425 115.7)" font-size="8" text-anchor="start" fill="#151515">mimics</text>
<line x1="358.9" y1="156.8" x2="358.9" y2="238.39999999999998" stroke="#000" stroke-width="1.4"/>
<line x1="355.5" y1="157.5" x2="358.9" y2="157.5" stroke="#000" stroke-width="1.4"/>
<line x1="355.5" y1="177.5" x2="358.9" y2="177.5" stroke="#000" stroke-width="1.4"/>
<line x1="355.5" y1="197.5" x2="358.9" y2="197.5" stroke="#000" stroke-width="1.4"/>
<line x1="355.5" y1="217.8" x2="358.9" y2="217.8" stroke="#000" stroke-width="1.4"/>
<line x1="355.5" y1="237.7" x2="358.9" y2="237.7" stroke="#000" stroke-width="1.4"/>
<text transform="translate(353.4 159.28)" font-size="8" text-anchor="end" fill="#151515">2.0</text>
<text transform="translate(353.4 179.28)" font-size="8" text-anchor="end" fill="#151515">1.5</text>
<text transform="translate(353.4 199.28)" font-size="8" text-anchor="end" fill="#151515">1.0</text>
<text transform="translate(353.4 219.58)" font-size="8" text-anchor="end" fill="#151515">0.5</text>
<text transform="translate(353.4 239.48)" font-size="8" text-anchor="end" fill="#151515">0.0</text>
<line x1="358.2" y1="237.7" x2="440.8" y2="237.7" stroke="#000" stroke-width="1.4"/>
<line x1="371" y1="237.7" x2="371" y2="240.5" stroke="#000" stroke-width="1.4"/>
<line x1="390" y1="237.7" x2="390" y2="240.5" stroke="#000" stroke-width="1.4"/>
<line x1="408.7" y1="237.7" x2="408.7" y2="240.5" stroke="#000" stroke-width="1.4"/>
<line x1="427.8" y1="237.7" x2="427.8" y2="240.5" stroke="#000" stroke-width="1.4"/>
<text transform="translate(372 247.8)" font-size="8" text-anchor="middle" fill="#151515">0h</text>
<text transform="translate(391.3 247.8)" font-size="8" text-anchor="middle" fill="#151515">24h</text>
<text transform="translate(410.3 247.8)" font-size="8" text-anchor="middle" fill="#151515">48h</text>
<text transform="translate(429.2 247.8)" font-size="8" text-anchor="middle" fill="#151515">72h</text>
<polyline fill="none" stroke="#e6211c" stroke-width="2" stroke-linejoin="round" points="371,216.3 390,208.5 408.7,200.5 427.8,190.2"/>
<line x1="371" y1="215.5" x2="371" y2="217.10000000000002" stroke="#e6211c" stroke-width="0.9"/>
<line x1="369.3" y1="215.5" x2="372.7" y2="215.5" stroke="#e6211c" stroke-width="0.9"/>
<line x1="369.3" y1="217.10000000000002" x2="372.7" y2="217.10000000000002" stroke="#e6211c" stroke-width="0.9"/>
<rect x="369.40" y="214.70" width="3.20" height="3.20" fill="#e6211c"/>
<line x1="390" y1="207.5" x2="390" y2="209.5" stroke="#e6211c" stroke-width="0.9"/>
<line x1="388.3" y1="207.5" x2="391.7" y2="207.5" stroke="#e6211c" stroke-width="0.9"/>
<line x1="388.3" y1="209.5" x2="391.7" y2="209.5" stroke="#e6211c" stroke-width="0.9"/>
<rect x="388.40" y="206.90" width="3.20" height="3.20" fill="#e6211c"/>
<line x1="408.7" y1="197.7" x2="408.7" y2="203.3" stroke="#e6211c" stroke-width="0.9"/>
<line x1="407.0" y1="197.7" x2="410.4" y2="197.7" stroke="#e6211c" stroke-width="0.9"/>
<line x1="407.0" y1="203.3" x2="410.4" y2="203.3" stroke="#e6211c" stroke-width="0.9"/>
<rect x="407.10" y="198.90" width="3.20" height="3.20" fill="#e6211c"/>
<line x1="427.8" y1="187.1" x2="427.8" y2="193.29999999999998" stroke="#e6211c" stroke-width="0.9"/>
<line x1="426.1" y1="187.1" x2="429.5" y2="187.1" stroke="#e6211c" stroke-width="0.9"/>
<line x1="426.1" y1="193.29999999999998" x2="429.5" y2="193.29999999999998" stroke="#e6211c" stroke-width="0.9"/>
<rect x="426.20" y="188.60" width="3.20" height="3.20" fill="#e6211c"/>
<polyline fill="none" stroke="#1c499f" stroke-width="2" stroke-linejoin="round" points="371,217.5 390,207 408.7,190.7 427.8,167.5"/>
<line x1="371" y1="216.7" x2="371" y2="218.3" stroke="#1c499f" stroke-width="0.9"/>
<line x1="369.3" y1="216.7" x2="372.7" y2="216.7" stroke="#1c499f" stroke-width="0.9"/>
<line x1="369.3" y1="218.3" x2="372.7" y2="218.3" stroke="#1c499f" stroke-width="0.9"/>
<circle cx="371" cy="217.5" r="1.8" fill="#1c499f"/>
<line x1="390" y1="206.2" x2="390" y2="207.8" stroke="#1c499f" stroke-width="0.9"/>
<line x1="388.3" y1="206.2" x2="391.7" y2="206.2" stroke="#1c499f" stroke-width="0.9"/>
<line x1="388.3" y1="207.8" x2="391.7" y2="207.8" stroke="#1c499f" stroke-width="0.9"/>
<circle cx="390" cy="207" r="1.8" fill="#1c499f"/>
<line x1="408.7" y1="189.0" x2="408.7" y2="192.39999999999998" stroke="#1c499f" stroke-width="0.9"/>
<line x1="407.0" y1="189.0" x2="410.4" y2="189.0" stroke="#1c499f" stroke-width="0.9"/>
<line x1="407.0" y1="192.39999999999998" x2="410.4" y2="192.39999999999998" stroke="#1c499f" stroke-width="0.9"/>
<circle cx="408.7" cy="190.7" r="1.8" fill="#1c499f"/>
<line x1="427.8" y1="164.4" x2="427.8" y2="170.6" stroke="#1c499f" stroke-width="0.9"/>
<line x1="426.1" y1="164.4" x2="429.5" y2="164.4" stroke="#1c499f" stroke-width="0.9"/>
<line x1="426.1" y1="170.6" x2="429.5" y2="170.6" stroke="#1c499f" stroke-width="0.9"/>
<circle cx="427.8" cy="167.5" r="1.8" fill="#1c499f"/>
<line x1="433" y1="166.8" x2="433" y2="190.5" stroke="#2a2020" stroke-width="1.2"/>
<text transform="translate(435.54949999999997 178.95000000000002) rotate(90)" font-size="7.7" text-anchor="middle" fill="#151515" font-weight="bold" style="stroke-width:0">***</text>
<text transform="translate(336 166.3) rotate(-90)" font-size="8" text-anchor="middle" fill="#151515">OD</text>
<line x1="415" y1="215.8" x2="423.6" y2="215.8" stroke="#1c499f" stroke-width="1.6"/>
<circle cx="419.3" cy="215.8" r="1.5" fill="#1c499f"/>
<text transform="translate(428.6 218.0)" font-size="8" text-anchor="start" fill="#151515">miR-NC</text>
<line x1="415" y1="226.8" x2="423.6" y2="226.8" stroke="#e6211c" stroke-width="1.6"/>
<rect x="417.90" y="225.40" width="2.80" height="2.80" fill="#e6211c"/>
<text transform="translate(428.6 229.0)" font-size="8" text-anchor="start" fill="#151515">mimics</text>
<line x1="392.8" y1="289.0" x2="392.8" y2="415.5" stroke="#000" stroke-width="1.4"/>
<line x1="387.5" y1="289.7" x2="392.8" y2="289.7" stroke="#000" stroke-width="1.4"/>
<line x1="387.5" y1="321" x2="392.8" y2="321" stroke="#000" stroke-width="1.4"/>
<line x1="387.5" y1="352.3" x2="392.8" y2="352.3" stroke="#000" stroke-width="1.4"/>
<line x1="387.5" y1="383.6" x2="392.8" y2="383.6" stroke="#000" stroke-width="1.4"/>
<line x1="387.5" y1="414.8" x2="392.8" y2="414.8" stroke="#000" stroke-width="1.4"/>
<text transform="translate(384.9 293.272)" font-size="7.7" text-anchor="end" fill="#151515">40</text>
<text transform="translate(384.9 324.572)" font-size="7.7" text-anchor="end" fill="#151515">30</text>
<text transform="translate(384.9 355.872)" font-size="7.7" text-anchor="end" fill="#151515">20</text>
<text transform="translate(384.9 387.172)" font-size="7.7" text-anchor="end" fill="#151515">10</text>
<text transform="translate(384.9 418.372)" font-size="7.7" text-anchor="end" fill="#151515">0</text>
<line x1="392.1" y1="414.8" x2="518.5" y2="414.8" stroke="#000" stroke-width="1.4"/>
<line x1="421.8" y1="414.8" x2="421.8" y2="420.1" stroke="#000" stroke-width="1.4"/>
<line x1="488.7" y1="414.8" x2="488.7" y2="420.1" stroke="#000" stroke-width="1.4"/>
<line x1="409.5" y1="306.9" x2="409.5" y2="317.2" stroke="#1c499f" stroke-width="1.0"/>
<line x1="405.4" y1="306.9" x2="413.6" y2="306.9" stroke="#1c499f" stroke-width="1.0"/>
<rect x="401.00" y="317.20" width="17.00" height="97.60" fill="#1c499f"/>
<line x1="434.5" y1="340.3" x2="434.5" y2="347" stroke="#e6211c" stroke-width="1.0"/>
<line x1="430.4" y1="340.3" x2="438.6" y2="340.3" stroke="#e6211c" stroke-width="1.0"/>
<rect x="426.00" y="347.00" width="17.00" height="67.80" fill="#e6211c"/>
<line x1="476.25" y1="327.7" x2="476.25" y2="334" stroke="#1c499f" stroke-width="1.0"/>
<line x1="472.15" y1="327.7" x2="480.35" y2="327.7" stroke="#1c499f" stroke-width="1.0"/>
<rect x="467.80" y="334.00" width="16.90" height="80.80" fill="#1c499f"/>
<line x1="501.25" y1="343.2" x2="501.25" y2="350" stroke="#e6211c" stroke-width="1.0"/>
<line x1="497.15" y1="343.2" x2="505.35" y2="343.2" stroke="#e6211c" stroke-width="1.0"/>
<rect x="492.90" y="350.00" width="16.70" height="64.80" fill="#e6211c"/>
<line x1="409.5" y1="301.5" x2="434.5" y2="301.5" stroke="#2a2020" stroke-width="1.3"/>
<text transform="translate(420.2 300.5505)" font-size="7.7" text-anchor="middle" fill="#151515" font-weight="bold" style="stroke-width:0">**</text>
<line x1="476" y1="318.5" x2="500.8" y2="318.5" stroke="#2a2020" stroke-width="1.3"/>
<text transform="translate(489.5 316.0505)" font-size="7.7" text-anchor="middle" fill="#151515" font-weight="bold" style="stroke-width:0">*</text>
<text transform="translate(420.9 430.2)" font-size="8" text-anchor="middle" fill="#151515">PC3</text>
<text transform="translate(486.4 430.2)" font-size="8" text-anchor="middle" fill="#151515">DU145</text>
<text transform="translate(370 414.7) rotate(-90) scale(1 0.9)" font-size="8.05" text-anchor="start" fill="#151515">wound healing(%)</text>
<rect x="494.00" y="262.50" width="13.30" height="6.50" fill="#1c499f" rx="0.8"/>
<text transform="translate(514.6 268.8)" font-size="8" text-anchor="start" fill="#151515">miR-NC</text>
<rect x="494.00" y="279.20" width="13.30" height="6.60" fill="#e6211c" rx="0.8"/>
<text transform="translate(514.6 285.5)" font-size="8" text-anchor="start" fill="#151515">mimics</text>
<line x1="391.9" y1="452.3" x2="391.9" y2="578.5" stroke="#000" stroke-width="1.4"/>
<line x1="386.59999999999997" y1="453" x2="391.9" y2="453" stroke="#000" stroke-width="1.4"/>
<line x1="386.59999999999997" y1="477.8" x2="391.9" y2="477.8" stroke="#000" stroke-width="1.4"/>
<line x1="386.59999999999997" y1="502.9" x2="391.9" y2="502.9" stroke="#000" stroke-width="1.4"/>
<line x1="386.59999999999997" y1="528" x2="391.9" y2="528" stroke="#000" stroke-width="1.4"/>
<line x1="386.59999999999997" y1="553" x2="391.9" y2="553" stroke="#000" stroke-width="1.4"/>
<line x1="386.59999999999997" y1="577.8" x2="391.9" y2="577.8" stroke="#000" stroke-width="1.4"/>
<text transform="translate(382.6 456.67199999999997)" font-size="7.7" text-anchor="end" fill="#151515">1000</text>
<text transform="translate(382.6 481.472)" font-size="7.7" text-anchor="end" fill="#151515">800</text>
<text transform="translate(382.6 506.57199999999995)" font-size="7.7" text-anchor="end" fill="#151515">600</text>
<text transform="translate(382.6 531.672)" font-size="7.7" text-anchor="end" fill="#151515">400</text>
<text transform="translate(382.6 556.672)" font-size="7.7" text-anchor="end" fill="#151515">200</text>
<text transform="translate(382.6 581.472)" font-size="7.7" text-anchor="end" fill="#151515">0</text>
<line x1="391.2" y1="577.8" x2="517.5" y2="577.8" stroke="#000" stroke-width="1.4"/>
<line x1="421" y1="577.8" x2="421" y2="583.0999999999999" stroke="#000" stroke-width="1.4"/>
<line x1="487.8" y1="577.8" x2="487.8" y2="583.0999999999999" stroke="#000" stroke-width="1.4"/>
<line x1="408.6" y1="524.7" x2="408.6" y2="529.5" stroke="#1c499f" stroke-width="1.0"/>
<line x1="404.5" y1="524.7" x2="412.70000000000005" y2="524.7" stroke="#1c499f" stroke-width="1.0"/>
<rect x="400.20" y="529.50" width="16.80" height="48.30" fill="#1c499f"/>
<line x1="433.65" y1="554.7" x2="433.65" y2="558.4" stroke="#e6211c" stroke-width="1.0"/>
<line x1="429.54999999999995" y1="554.7" x2="437.75" y2="554.7" stroke="#e6211c" stroke-width="1.0"/>
<rect x="425.30" y="558.40" width="16.70" height="19.40" fill="#e6211c"/>
<line x1="475.25" y1="482" x2="475.25" y2="487" stroke="#1c499f" stroke-width="1.0"/>
<line x1="471.15" y1="482" x2="479.35" y2="482" stroke="#1c499f" stroke-width="1.0"/>
<rect x="466.80" y="487.00" width="16.90" height="90.80" fill="#1c499f"/>
<line x1="500.5" y1="530" x2="500.5" y2="534" stroke="#e6211c" stroke-width="1.0"/>
<line x1="496.4" y1="530" x2="504.6" y2="530" stroke="#e6211c" stroke-width="1.0"/>
<rect x="492.00" y="534.00" width="17.00" height="43.80" fill="#e6211c"/>
<line x1="408.8" y1="520.3" x2="433.5" y2="520.3" stroke="#2a2020" stroke-width="1.3"/>
<text transform="translate(419.6 519.8505)" font-size="7.7" text-anchor="middle" fill="#151515" font-weight="bold" style="stroke-width:0">**</text>
<line x1="475.2" y1="475.8" x2="500" y2="475.8" stroke="#2a2020" stroke-width="1.3"/>
<text transform="translate(486 475.6505)" font-size="7.7" text-anchor="middle" fill="#151515" font-weight="bold" style="stroke-width:0">**</text>
<text transform="translate(420 593)" font-size="8" text-anchor="middle" fill="#151515">PC3</text>
<text transform="translate(485.8 593)" font-size="8" text-anchor="middle" fill="#151515">DU145</text>
<text transform="translate(365.2 577.7) rotate(-90) scale(1 0.88)" font-size="8.03" text-anchor="start" fill="#151515">invasive cell number</text>
<rect x="494.00" y="439.80" width="13.30" height="6.70" fill="#1c499f" rx="0.8"/>
<text transform="translate(514.6 446.5)" font-size="8" text-anchor="start" fill="#151515">miR-NC</text>
<rect x="494.00" y="456.50" width="13.30" height="7.00" fill="#e6211c" rx="0.8"/>
<text transform="translate(514.6 463.2)" font-size="8" text-anchor="start" fill="#151515">mimics</text>
<text transform="translate(102.6 275.5)" font-size="8" text-anchor="middle" fill="#151515">PC3</text>
<text transform="translate(276 275.5)" font-size="8" text-anchor="middle" fill="#151515">DU145</text>
<line x1="22" y1="283.7" x2="179.8" y2="283.7" stroke="#3a3030" stroke-width="1.3"/>
<line x1="190.2" y1="283.7" x2="348.2" y2="283.7" stroke="#3a3030" stroke-width="1.3"/>
<text transform="translate(57 299.4)" font-size="8" text-anchor="middle" fill="#151515">miR-NC</text>
<text transform="translate(225.6 299.4)" font-size="8" text-anchor="middle" fill="#151515">miR-NC</text>
<text transform="translate(141.3 299.4)" font-size="8" text-anchor="middle" fill="#151515">mimics</text>
<text transform="translate(309.5 299.4)" font-size="8" text-anchor="middle" fill="#151515">mimics</text>
<text transform="translate(102.6 474.2)" font-size="8" text-anchor="middle" fill="#151515">PC3</text>
<text transform="translate(276 474.2)" font-size="8" text-anchor="middle" fill="#151515">DU145</text>
<line x1="22" y1="482.2" x2="179.8" y2="482.2" stroke="#3a3030" stroke-width="1.3"/>
<line x1="190.2" y1="482.2" x2="348.2" y2="482.2" stroke="#3a3030" stroke-width="1.3"/>
<text transform="translate(57 497.8)" font-size="8" text-anchor="middle" fill="#151515">miR-NC</text>
<text transform="translate(225.6 497.8)" font-size="8" text-anchor="middle" fill="#151515">miR-NC</text>
<text transform="translate(141.3 497.8)" font-size="8" text-anchor="middle" fill="#151515">mimics</text>
<text transform="translate(309.5 497.8)" font-size="8" text-anchor="middle" fill="#151515">mimics</text>
<text transform="translate(15 331.2) rotate(-90)" font-size="8" text-anchor="middle" fill="#151515">0h</text>
<text transform="translate(14.6 390.2) rotate(-90)" font-size="8" text-anchor="middle" fill="#151515">48h</text>
<rect x="22" y="309.4" width="76" height="50.2" fill="#3c4247"/>
<g clip-path="url(#cl11)"><rect x="22" y="309.4" width="76" height="50.2" filter="url(#pc)"/></g>
<line x1="34" y1="309.4" x2="34" y2="359.9" stroke="#b8182a" stroke-width="1.15"/>
<line x1="80.6" y1="309.4" x2="80.6" y2="359.9" stroke="#b8182a" stroke-width="1.15"/>
<rect x="102.5" y="309.4" width="77.3" height="50.2" fill="#3c4247"/>
<g clip-path="url(#cl12)"><rect x="102.5" y="309.4" width="77.3" height="50.2" filter="url(#pc)"/></g>
<line x1="108.2" y1="309.4" x2="108.2" y2="359.9" stroke="#b8182a" stroke-width="1.15"/>
<line x1="170.2" y1="309.4" x2="170.2" y2="359.9" stroke="#b8182a" stroke-width="1.15"/>
<rect x="21" y="366.6" width="77" height="50.9" fill="#4b5153"/>
<g clip-path="url(#cl13)"><rect x="21" y="366.6" width="77" height="50.9" filter="url(#pc2)"/></g>
<line x1="46.1" y1="366.6" x2="46.1" y2="417.8" stroke="#b8182a" stroke-width="1.15"/>
<line x1="78.3" y1="366.6" x2="78.3" y2="417.8" stroke="#b8182a" stroke-width="1.15"/>
<circle cx="66.1" cy="403.1" r="0.90" fill="#9a9c80" opacity="0.8"/>
<circle cx="75.3" cy="403.0" r="0.96" fill="#9a9c80" opacity="0.8"/>
<circle cx="48.8" cy="390.4" r="0.97" fill="#9a9c80" opacity="0.8"/>
<circle cx="66.8" cy="410.4" r="0.56" fill="#9a9c80" opacity="0.8"/>
<circle cx="61.6" cy="380.3" r="0.77" fill="#9a9c80" opacity="0.8"/>
<circle cx="64.6" cy="369.6" r="0.61" fill="#9a9c80" opacity="0.8"/>
<circle cx="56.1" cy="411.2" r="0.88" fill="#9a9c80" opacity="0.8"/>
<circle cx="52.6" cy="405.7" r="0.57" fill="#9a9c80" opacity="0.8"/>
<circle cx="65.9" cy="374.8" r="0.50" fill="#9a9c80" opacity="0.8"/>
<circle cx="73.3" cy="378.6" r="0.61" fill="#9a9c80" opacity="0.8"/>
<circle cx="76.5" cy="409.1" r="0.64" fill="#9a9c80" opacity="0.8"/>
<circle cx="75.9" cy="393.8" r="0.84" fill="#9a9c80" opacity="0.8"/>
<circle cx="53.9" cy="412.3" r="0.85" fill="#9a9c80" opacity="0.8"/>
<circle cx="76.0" cy="410.1" r="0.65" fill="#9a9c80" opacity="0.8"/>
<circle cx="58.5" cy="376.6" r="0.57" fill="#9a9c80" opacity="0.8"/>
<circle cx="49.9" cy="382.9" r="0.80" fill="#9a9c80" opacity="0.8"/>
<rect x="102.8" y="366.6" width="76.8" height="50.9" fill="#42484a"/>
<g clip-path="url(#cl14)"><rect x="102.8" y="366.6" width="76.8" height="50.9" filter="url(#pc)"/></g>
<line x1="117.3" y1="366.6" x2="117.3" y2="417.8" stroke="#b8182a" stroke-width="1.15"/>
<line x1="165" y1="366.6" x2="165" y2="417.8" stroke="#b8182a" stroke-width="1.15"/>
<rect x="189.8" y="309.2" width="77" height="50.4" fill="#40668a"/>
<g clip-path="url(#cl15)"><rect x="189.8" y="309.2" width="77" height="50.4" filter="url(#du1)"/></g>
<line x1="218" y1="309.2" x2="218" y2="359.9" stroke="#a81c2e" stroke-width="1.2"/>
<line x1="241.6" y1="309.2" x2="241.6" y2="359.9" stroke="#a81c2e" stroke-width="1.2"/>
<rect x="271" y="309.2" width="76.5" height="50.4" fill="#4e72a0"/>
<g clip-path="url(#cl16)"><rect x="271" y="309.2" width="76.5" height="50.4" filter="url(#du2)"/></g>
<line x1="298.5" y1="309.2" x2="298.5" y2="359.9" stroke="#a81c2e" stroke-width="1.2"/>
<line x1="322" y1="309.2" x2="322" y2="359.9" stroke="#a81c2e" stroke-width="1.2"/>
<rect x="189.8" y="366.7" width="77" height="50.8" fill="#32467a"/>
<g clip-path="url(#cl17)"><rect x="189.8" y="366.7" width="77" height="50.8" filter="url(#du3)"/></g>
<line x1="220.5" y1="366.7" x2="220.5" y2="417.8" stroke="#a81c2e" stroke-width="1.2"/>
<line x1="234.6" y1="366.7" x2="234.6" y2="417.8" stroke="#a81c2e" stroke-width="1.2"/>
<rect x="271" y="366.7" width="76.5" height="50.8" fill="#35567a"/>
<g clip-path="url(#cl18)"><rect x="271" y="366.7" width="76.5" height="50.8" filter="url(#du4)"/></g>
<line x1="299.6" y1="366.7" x2="299.6" y2="417.8" stroke="#a81c2e" stroke-width="1.2"/>
<line x1="318.1" y1="366.7" x2="318.1" y2="417.8" stroke="#a81c2e" stroke-width="1.2"/>
<rect x="22" y="502" width="78" height="51.8" filter="url(#t1)"/>
<rect x="102.5" y="502" width="77.5" height="51.8" filter="url(#t2)"/>
<g mask="url(#mt2b)"><rect x="102.5" y="502" width="77.5" height="51.8" filter="url(#t2b)"/></g>
<rect x="191.9" y="502.2" width="75.6" height="50.6" filter="url(#t3)"/>
<rect x="272.2" y="502.2" width="75.4" height="50.6" filter="url(#t4)"/>
<g mask="url(#mt4b)"><rect x="272.2" y="502.2" width="75.4" height="50.6" filter="url(#t4b)"/></g>
<rect x="272.80" y="502.50" width="11.20" height="1.60" fill="#202060"/>
</svg></body></html>
